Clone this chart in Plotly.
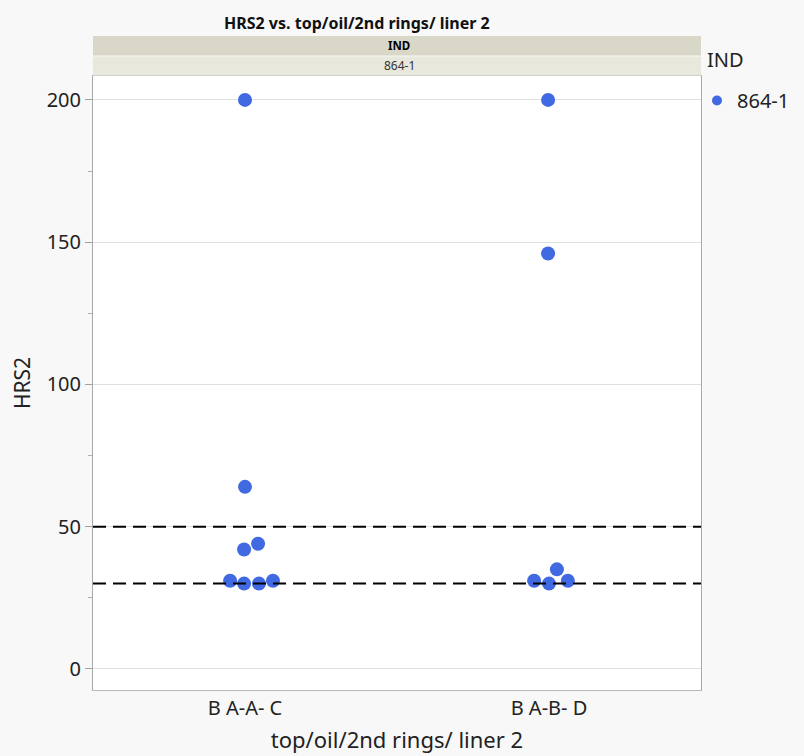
import plotly.graph_objects as go

categories = ["B A-A- C", "B A-B- D"]
group_index = [0, 0, 0, 0, 0, 0, 0, 0, 1, 1, 1, 1, 1, 1]
hrs2 = [200, 64, 44, 42, 31, 30, 30, 31, 200, 146, 35, 31, 30, 31]
jitter = [0.0, 0.0, 0.043, -0.003, -0.049, -0.003, 0.046, 0.092,
          -0.003, -0.003, 0.026, -0.049, 0.0, 0.062]
ref_lines = [50, 30]
y_ticks = [0, 50, 100, 150, 200]
legend_title = "IND"
legend_group = "864-1"

W, H = 804, 756
L, R, T, B = 93, 103, 76, 66
plot_h = H - T - B
plot_w = W - L - R

def py(px):
    return (H - B - px) / plot_h

def px_(x):
    return (x - L) / plot_w

FONT = "Noto Sans"
blue = "#4169E1"

x_vals = [g + j for g, j in zip(group_index, jitter)]

fig = go.Figure()
fig.add_trace(go.Scatter(
    x=x_vals, y=hrs2, mode="markers",
    marker=dict(size=14, color=blue),
    showlegend=False, hoverinfo="y",
))
fig.add_trace(go.Scatter(
    x=[None], y=[None], mode="markers", name=legend_group,
    marker=dict(size=10, color=blue), showlegend=True,
))

shapes = []
for v in ref_lines:
    shapes.append(dict(type="line", xref="paper", yref="y", x0=0, x1=1, y0=v, y1=v,
                       line=dict(color="black", width=2, dash="13px,7px"), layer="above"))
# header strips
shapes.append(dict(type="rect", xref="paper", yref="paper", x0=0, x1=1,
                   y0=py(55.5), y1=py(36), fillcolor="#d9d8c8", line=dict(width=0)))
shapes.append(dict(type="rect", xref="paper", yref="paper", x0=0, x1=1,
                   y0=py(75.5), y1=py(56.5), fillcolor="#e8e8dc", line=dict(width=0)))

annotations = [
    dict(text="<b>HRS2 vs. top/oil/2nd rings/ liner 2</b>", xref="paper", yref="paper",
         x=px_(357), y=py(23), showarrow=False, font=dict(family=FONT, size=16, color="#111111"),
         xanchor="center", yanchor="middle"),
    dict(text="<b>IND</b>", xref="paper", yref="paper", x=px_(399), y=py(45.5), showarrow=False,
         font=dict(family=FONT, size=11.5, color="black"), xanchor="center", yanchor="middle"),
    dict(text="864-1", xref="paper", yref="paper", x=px_(399), y=py(65.5), showarrow=False,
         font=dict(family=FONT, size=12, color="#333333"), xanchor="center", yanchor="middle"),
    dict(text=legend_title, xref="paper", yref="paper", x=px_(705), y=py(60), showarrow=False,
         font=dict(family=FONT, size=20, color="#222222"), xanchor="left", yanchor="middle"),
]

fig.update_layout(
    width=W, height=H,
    margin=dict(l=L, r=R, t=T, b=B, autoexpand=False),
    paper_bgcolor="#f8f8f8", plot_bgcolor="white",
    font=dict(family=FONT, size=20, color="#222222"),
    shapes=shapes, annotations=annotations,
    legend=dict(font=dict(size=20), xref="container", yref="container",
                x=697 / W, y=1 - 81 / H, xanchor="left", yanchor="top",
                bgcolor="rgba(0,0,0,0)", itemsizing="trace"),
    xaxis=dict(range=[-0.5, 1.5], tickvals=[0, 1], ticktext=categories,
               showgrid=False, zeroline=False, showline=True, mirror=True, automargin=False,
               linecolor="#b8b8b8", linewidth=1, ticks="", tickfont=dict(size=20),
               ticklabelstandoff=0,
               title=dict(text="top/oil/2nd rings/ liner 2", font=dict(size=22), standoff=12)),
    yaxis=dict(range=[-7.4, 208.4], tickvals=y_ticks, showgrid=True, gridcolor="#e0e0e0",
               zeroline=False, showline=True, mirror=True, linecolor="#a8a8a8", linewidth=1,
               automargin=False,
               ticks="outside", ticklen=7, tickcolor="#a0a0a0", tickfont=dict(size=20),
               minor=dict(dtick=25, tick0=0, ticks="outside", ticklen=4, tickcolor="#b0b0b0", showgrid=False),
               title=dict(text="HRS2", font=dict(size=21), standoff=10)),
)

fig.write_html("out.html", config={"displayModeBar": False},
               post_script="document.body.style.margin='0';document.body.style.background='#f8f8f8';")
